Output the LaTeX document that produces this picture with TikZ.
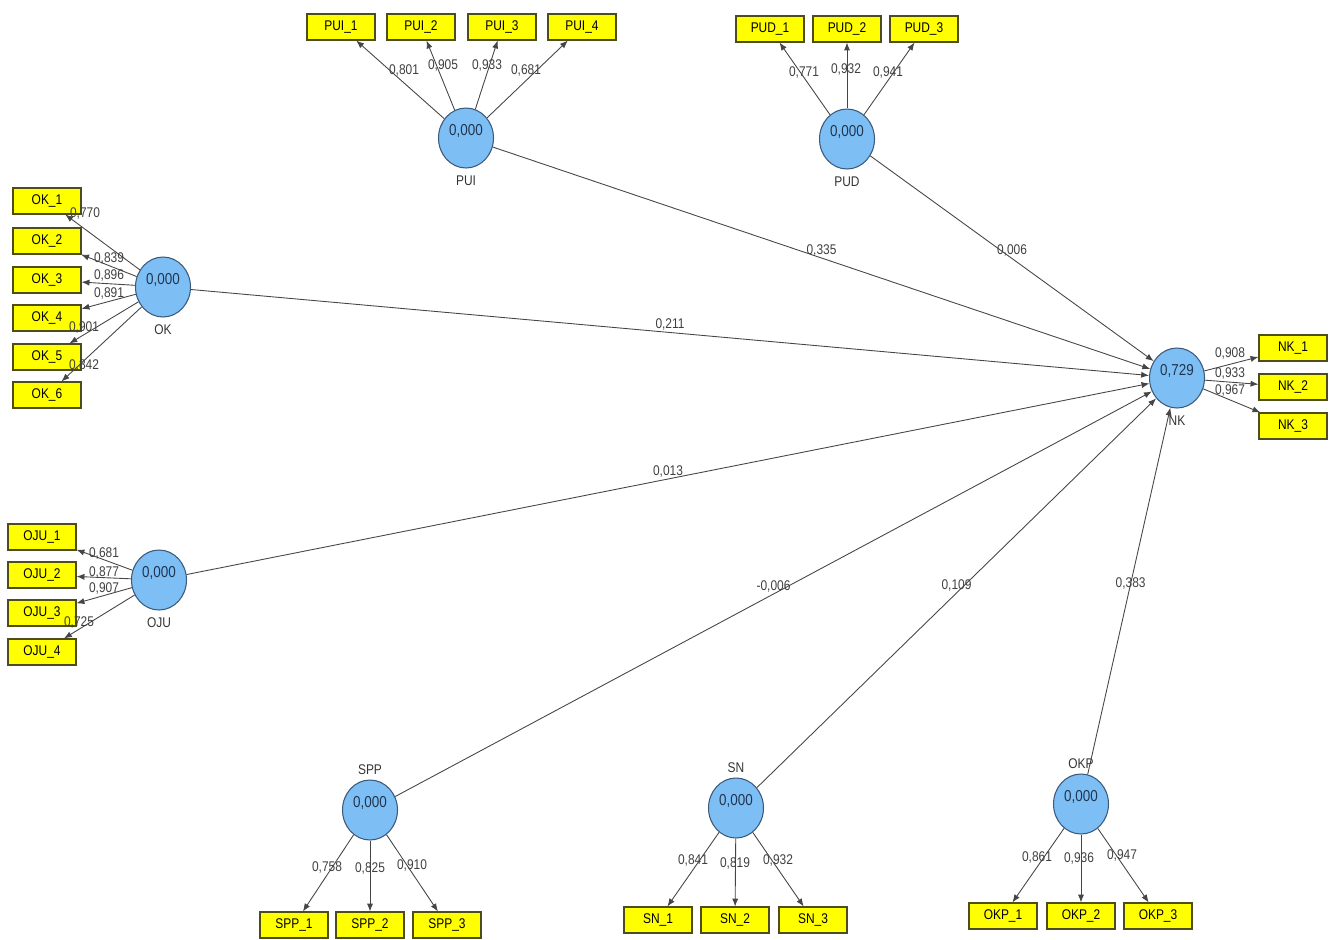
\documentclass[tikz,border=0pt]{standalone}
\usepackage{fontspec}
\setmainfont{Liberation Sans}[FakeStretch=0.85]
\usepackage{xcolor}
\usepackage{tikz}
\usetikzlibrary{arrows.meta,positioning,shapes.geometric}
\definecolor{indfill}{HTML}{FFFF00}
\definecolor{inddraw}{HTML}{4D4D1A}
\definecolor{lvfill}{HTML}{7DBEF5}
\definecolor{lvdraw}{HTML}{3C5A7A}
\definecolor{lvtext}{HTML}{1F3550}
\definecolor{edgegray}{HTML}{454545}

\begin{document}
\begin{tikzpicture}[
  x=0.02cm, y=-0.02cm,
  lv/.style={ellipse, draw=lvdraw, fill=lvfill, line width=0.6pt, minimum width=1.1cm,
             minimum height=1.2cm, inner sep=0pt, font=\small, text=lvtext,
             text height=6pt, text depth=9pt},
  ind/.style={rectangle, draw=inddraw, fill=indfill, line width=0.6pt, minimum width=1.36cm,
              minimum height=0.52cm, inner sep=0pt, font=\footnotesize},
  lvname/.style={font=\footnotesize, text=black!80, inner sep=1pt},
  lbl/.style={font=\footnotesize, text=black!75, inner sep=0pt},
  coef/.style={font=\footnotesize, text=black!75, inner sep=1pt, above},
  arr/.style={-{Latex[length=4.5pt,width=3.5pt]}, draw=edgegray, line width=0.5pt}
]
\useasboundingbox (0,0) rectangle (1336,940);

% latent variables
\node[lv] (pui) at (466,138) {0{,}000};
\node[lv] (pud) at (847,139) {0{,}000};
\node[lv] (ok) at (163,287) {0{,}000};
\node[lv] (oju) at (159,580) {0{,}000};
\node[lv] (nk) at (1177,378) {0{,}729};
\node[lv] (spp) at (370,810) {0{,}000};
\node[lv] (sn) at (736,808) {0{,}000};
\node[lv] (okp) at (1081,804) {0{,}000};

\node[lvname, below=3pt of pui] (pui-n) {PUI};
\node[lvname, below=3pt of pud] (pud-n) {PUD};
\node[lvname, below=3pt of ok] (ok-n) {OK};
\node[lvname, below=3pt of oju] (oju-n) {OJU};
\node[lvname, below=3pt of nk] (nk-n) {NK};
\node[lvname, above=1.5pt of spp] (spp-n) {SPP};
\node[lvname, above=1.5pt of sn] (sn-n) {SN};
\node[lvname, above=1.5pt of okp] (okp-n) {OKP};

% indicators
\foreach \n/\x in {1/341,2/421,3/502,4/582} \node[ind] (pui\n) at (\x,27) {PUI\_\n};
\foreach \n/\x in {1/770,2/847,3/924} \node[ind] (pud\n) at (\x,29) {PUD\_\n};
\foreach \n/\y in {1/201,2/241,3/280,4/318,5/357,6/395} \node[ind] (ok\n) at (47,\y) {OK\_\n};
\foreach \n/\y in {1/537,2/575,3/613,4/652} \node[ind] (oju\n) at (42,\y) {OJU\_\n};
\foreach \n/\y in {1/348,2/387,3/426} \node[ind] (nk\n) at (1293,\y) {NK\_\n};
\foreach \n/\x in {1/294,2/370,3/447} \node[ind] (spp\n) at (\x,925) {SPP\_\n};
\foreach \n/\x in {1/658,2/735,3/813} \node[ind] (sn\n) at (\x,920) {SN\_\n};
\foreach \n/\x in {1/1003,2/1081,3/1158} \node[ind] (okp\n) at (\x,916) {OKP\_\n};

% loadings
\foreach \n in {1,...,4} \draw[arr] (pui) -- (pui\n);
\foreach \n in {1,2,3} \draw[arr] (pud) -- (pud\n);
\foreach \n in {1,...,6} \draw[arr] (ok) -- (ok\n);
\foreach \n in {1,...,4} \draw[arr] (oju) -- (oju\n);
\foreach \n in {1,2,3} \draw[arr] (nk) -- (nk\n);
\foreach \n in {1,2,3} \draw[arr] (spp) -- (spp\n);
\foreach \n in {1,2,3} \draw[arr] (sn) -- (sn\n);
\foreach \n in {1,2,3} \draw[arr] (okp) -- (okp\n);

\foreach \n/\x/\y/\w in {1/404/70/0{,}801, 2/443/65/0{,}905, 3/487/65/0{,}933, 4/526/70/0{,}681}
  \node[lbl] (w-pui\n) at (\x,\y) {\w};
\foreach \n/\x/\y/\w in {1/804/72/0{,}771, 2/846/69/0{,}932, 3/888/72/0{,}941}
  \node[lbl] (w-pud\n) at (\x,\y) {\w};
\foreach \n/\x/\y/\w in {1/85/213/0{,}770, 2/109/258/0{,}839, 3/109/275/0{,}896,
                         4/109/293/0{,}891, 5/84/327/0{,}901, 6/84/365/0{,}842}
  \node[lbl] (w-ok\n) at (\x,\y) {\w};
\foreach \n/\x/\y/\w in {1/104/553/0{,}681, 2/104/572/0{,}877, 3/104/588/0{,}907, 4/79/622/0{,}725}
  \node[lbl] (w-oju\n) at (\x,\y) {\w};
\foreach \n/\x/\y/\w in {1/1230/353/0{,}908, 2/1230/373/0{,}933, 3/1230/390/0{,}967}
  \node[lbl] (w-nk\n) at (\x,\y) {\w};
\foreach \n/\x/\y/\w in {1/327/867/0{,}758, 2/370/868/0{,}825, 3/412/865/0{,}910}
  \node[lbl] (w-spp\n) at (\x,\y) {\w};
\foreach \n/\x/\y/\w in {1/693/860/0{,}841, 2/735/863/0{,}819, 3/778/860/0{,}932}
  \node[lbl] (w-sn\n) at (\x,\y) {\w};
\foreach \n/\x/\y/\w in {1/1037/857/0{,}861, 2/1079/858/0{,}936, 3/1122/855/0{,}947}
  \node[lbl] (w-okp\n) at (\x,\y) {\w};

% paths to NK
\draw[arr] (pui) -- node[coef] {0{,}335} (nk);
\draw[arr] (pud) -- node[coef] {0{,}006} (nk);
\draw[arr] (ok) -- node[coef] {0{,}211} (nk);
\draw[arr] (oju) -- node[coef] {0{,}013} (nk);
\draw[arr] (spp) -- node[coef] {-0{,}006} (nk);
\draw[arr] (sn) -- node[coef] {0{,}109} (nk);
\draw[arr] (okp) -- node[coef, anchor=center, pos=0.52] {0{,}383} (nk);
\end{tikzpicture}
\end{document}
